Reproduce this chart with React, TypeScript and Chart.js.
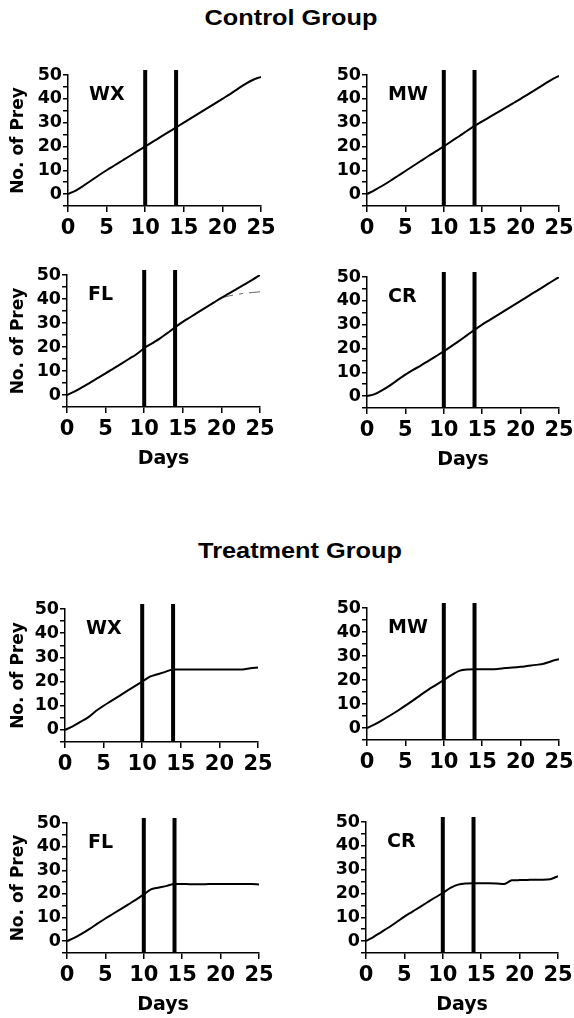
import React, { useEffect, useRef } from "react";
import { Chart, registerables } from "chart.js";
Chart.register(...registerables);

// ---------- data ----------
const days = [0, 1, 2, 3, 4, 5, 6, 7, 8, 9, 10, 11, 12, 13, 14, 15, 16, 17, 18, 19, 20, 21, 22, 23, 24, 25];

const controlWX = [0, 1.5, 3.5, 5.7, 7.9, 10, 12, 14, 16, 18, 20, 22, 24, 26, 28, 30, 32, 34, 36, 38, 40, 42, 44.2, 46.3, 48, 49.2];
const controlMW = [0, 1.7, 3.5, 5.5, 7.6, 9.7, 11.8, 13.9, 16, 18, 20, 22.2, 24.3, 26.5, 28.6, 30.5, 32.4, 34.3, 36.2, 38.1, 40, 42, 44, 46, 48, 49.6];
const controlFL = [0, 1.5, 3.3, 5.2, 7.1, 9, 11, 13, 15, 17, 19.5, 21.5, 23.5, 25.8, 28.2, 30.5, 32.5, 34.5, 36.5, 38.5, 40.5, 42.3, 44.2, 46.1, 48, 50];
const controlFLBrokenDays = [20, 21, 22, 23, 24, 25];
const controlFLBroken = [40.5, 41.3, 41.9, 42.4, 42.7, 43];
const controlCR = [0, 0.8, 2.5, 4.5, 6.8, 9, 11, 12.8, 14.8, 16.8, 18.8, 21, 23.2, 25.5, 27.8, 30, 32, 34, 36, 38, 40, 42, 44, 46, 48, 50];

const treatWX = [0, 1.5, 3.3, 5.2, 7.8, 10, 12, 14, 16, 18, 20, 22, 23, 24, 25, 25, 25, 25, 25, 25, 25, 25, 25, 25, 25.5, 25.8];
const treatMW = [0, 1.5, 3.3, 5.2, 7.2, 9.3, 11.5, 13.8, 16, 18, 20, 22, 23.8, 24.4, 24.5, 24.5, 24.5, 24.6, 25, 25.2, 25.5, 25.9, 26.3, 26.8, 27.8, 28.7];
const treatFL = [0, 1.5, 3.3, 5.3, 7.5, 9.6, 11.6, 13.6, 15.6, 17.6, 19.8, 22, 22.7, 23.4, 24.2, 24.2, 24.1, 24.1, 24.1, 24.2, 24.2, 24.2, 24.2, 24.2, 24.2, 24];
const treatCR = [0, 1.8, 3.8, 5.8, 8, 10.3, 12.3, 14.3, 16.3, 18.3, 20.2, 22.3, 23.7, 24.2, 24.3, 24.3, 24.3, 24.2, 24, 25.5, 25.6, 25.7, 25.8, 25.8, 26, 27.3];

const markerDays = [10, 14];
const yMin = -5;
const yMax = 50;
const xMin = 0;
const xMax = 25;
const groupTitles = ["Control Group", "Treatment Group"];
const yTitle = "No. of Prey";
const xTitle = "Days";

const FONT = "'DejaVu Sans', 'Liberation Sans', Arial, sans-serif";

type Geom = { L: number; R: number; T: number; B: number; col: number; bottomRow: boolean };

type PanelProps = {
  label: string;
  values: number[];
  broken?: { xs: number[]; ys: number[] };
  geom: Geom;
};

function Panel({ label, values, broken, geom }: PanelProps) {
  const ref = useRef<HTMLCanvasElement>(null);
  const canvasLeft = geom.col === 0 ? 0 : 292;
  const canvasWidth = geom.col === 0 ? 292 : 310;
  const canvasTop = geom.T - 20;
  const xAxisH = geom.bottomRow ? 66 : 40;
  const canvasHeight = geom.B - canvasTop + xAxisH;

  useEffect(() => {
    const datasets: any[] = [
      {
        data: days.map((d, i) => ({ x: d, y: values[i] })),
        borderColor: "#000",
        borderWidth: 2,
        pointRadius: 0,
        cubicInterpolationMode: "monotone",
      },
    ];
    if (broken) {
      datasets.push({
        data: broken.xs.map((d, i) => ({ x: d, y: broken.ys[i] })),
        borderColor: "#666",
        borderWidth: 1,
        borderDash: [12, 6, 4, 6],
        pointRadius: 0,
      });
    }
    const decor = {
      id: "decor" + label,
      afterDatasetsDraw(chart: any) {
        const { ctx, chartArea, scales } = chart;
        ctx.save();
        ctx.fillStyle = "#000";
        markerDays.forEach((d) => {
          const px = scales.x.getPixelForValue(d);
          ctx.fillRect(px - 2, chartArea.top - 5, 4, chartArea.bottom - chartArea.top + 5);
        });
        ctx.font = `bold 19px ${FONT}`;
        ctx.textBaseline = "middle";
        ctx.textAlign = "left";
        ctx.fillText(label, chartArea.left + 21, scales.y.getPixelForValue(41.5));
        ctx.restore();
      },
    };
    const chart = new Chart(ref.current as HTMLCanvasElement, {
      type: "line",
      data: { datasets },
      options: {
        responsive: false,
        animation: false,
        events: [],
        layout: {
          padding: { left: 0, right: canvasLeft + canvasWidth - geom.R, top: 20, bottom: 0 },
        },
        plugins: { legend: { display: false }, tooltip: { enabled: false } },
        scales: {
          x: {
            type: "linear",
            min: xMin,
            max: xMax,
            afterFit: (s: any) => {
              s.height = xAxisH;
            },
            ticks: {
              stepSize: 5,
              color: "#000",
              padding: 4,
              font: { family: FONT, weight: "bold", size: 21 },
            },
            grid: { drawOnChartArea: false, drawTicks: true, tickLength: 6, color: "#000", lineWidth: 1.5 },
            border: { color: "#000", width: 1.5 },
            title: {
              display: geom.bottomRow,
              text: xTitle,
              color: "#000",
              font: { family: FONT, weight: "bold", size: 19 },
              padding: { top: 0, bottom: 3 },
            },
          },
          y: {
            type: "linear",
            min: yMin,
            max: yMax,
            afterFit: (s: any) => {
              s.width = geom.L - canvasLeft;
            },
            ticks: {
              stepSize: 5,
              color: "#000",
              padding: 1,
              autoSkip: false,
              font: { family: FONT, weight: "bold", size: 17.5 },
              callback: (v: any) => (v >= 0 && v % 10 === 0 ? String(v) : ""),
            },
            grid: { drawOnChartArea: false, drawTicks: true, tickLength: 5, color: "#000", lineWidth: 1.5 },
            border: { color: "#000", width: 1.5 },
            title: {
              display: geom.col === 0,
              text: yTitle,
              color: "#000",
              font: { family: FONT, weight: "bold", size: 17 },
              padding: { top: 8, bottom: 0 },
            },
          },
        },
      },
      plugins: [decor],
    } as any);
    return () => chart.destroy();
  }, []);

  return (
    <canvas
      ref={ref}
      width={canvasWidth}
      height={canvasHeight}
      style={{ position: "absolute", left: canvasLeft, top: canvasTop, width: canvasWidth, height: canvasHeight }}
    />
  );
}

const titleStyle = (left: number, top: number): React.CSSProperties => ({
  position: "absolute",
  left,
  top,
  width: 574,
  textAlign: "center",
  fontFamily: "'Liberation Sans', Arial, sans-serif",
  fontWeight: "bold",
  fontSize: 22,
  lineHeight: "22px",
  color: "#000",
  transform: "scaleX(1.15)",
  transformOrigin: "center",
  whiteSpace: "nowrap",
});

export default function App() {
  return (
    <div
      style={{
        position: "fixed",
        left: 0,
        top: 0,
        width: 574,
        height: 1018,
        background: "#fff",
        overflow: "hidden",
      }}
    >
      <div style={titleStyle(4, 7)}>{groupTitles[0]}</div>
      <div style={titleStyle(13, 540)}>{groupTitles[1]}</div>

      <Panel label="WX" values={controlWX} geom={{ L: 68, R: 261, T: 75, B: 206, col: 0, bottomRow: false }} />
      <Panel label="MW" values={controlMW} geom={{ L: 367, R: 559, T: 75, B: 206, col: 1, bottomRow: false }} />
      <Panel
        label="FL"
        values={controlFL}
        broken={{ xs: controlFLBrokenDays, ys: controlFLBroken }}
        geom={{ L: 67, R: 260, T: 275, B: 407, col: 0, bottomRow: true }}
      />
      <Panel label="CR" values={controlCR} geom={{ L: 367, R: 559, T: 277, B: 408, col: 1, bottomRow: true }} />

      <Panel label="WX" values={treatWX} geom={{ L: 65, R: 258, T: 609, B: 742, col: 0, bottomRow: false }} />
      <Panel label="MW" values={treatMW} geom={{ L: 367, R: 559, T: 608, B: 740, col: 1, bottomRow: false }} />
      <Panel label="FL" values={treatFL} geom={{ L: 67, R: 259, T: 823, B: 953, col: 0, bottomRow: true }} />
      <Panel label="CR" values={treatCR} geom={{ L: 366, R: 558, T: 822, B: 953, col: 1, bottomRow: true }} />
    </div>
  );
}
